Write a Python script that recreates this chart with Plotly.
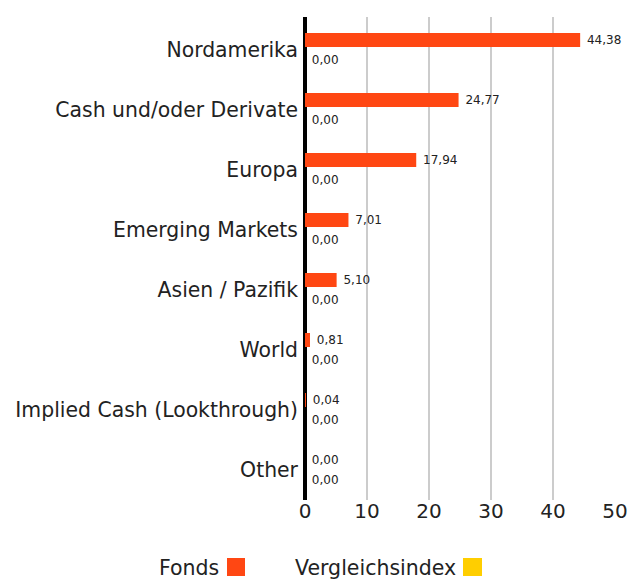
import plotly.graph_objects as go

categories = ["Nordamerika", "Cash und/oder Derivate", "Europa", "Emerging Markets",
              "Asien / Pazifik", "World", "Implied Cash (Lookthrough)", "Other"]
fonds = [44.38, 24.77, 17.94, 7.01, 5.10, 0.81, 0.04, 0.00]
vergleichsindex = [0.00, 0.00, 0.00, 0.00, 0.00, 0.00, 0.00, 0.00]
series_names = ["Fonds", "Vergleichsindex"]
series_colors = ["#FF4713", "#FFCE00"]
x_ticks = [0, 10, 20, 30, 40, 50]

OFF = 8  # default page body margin
W, H = 641 - OFF, 581 - OFF
L, R, T, B = 305 - OFF, 26, 17 - OFF, 81
PW, PH = W - L - R, H - T - B

def px_x(p):
    return (p - OFF - L) / PW

def px_y(p):
    return 1 - (p - OFF - T) / PH

FONT = "DejaVu Sans"
fig = go.Figure()
for name, vals, col in zip(series_names, [fonds, vergleichsindex], series_colors):
    fig.add_trace(go.Bar(
        y=categories, x=vals, name=name, orientation="h",
        marker=dict(color=col, line=dict(width=0)),
        texttemplate=" %{x:.2f}", textposition="outside",
        textfont=dict(size=12, color="#222222", family=FONT),
        cliponaxis=False, showlegend=False,
    ))

fig.update_layout(
    width=W, height=H,
    margin=dict(l=L, r=R, t=T, b=B, pad=0, autoexpand=False),
    paper_bgcolor="white", plot_bgcolor="white",
    barmode="group", bargap=1/3, bargroupgap=0.3,
    separators=",.",
    font=dict(family=FONT, color="#222222"),
    xaxis=dict(range=[0, 50], tickvals=x_ticks, showgrid=True, gridcolor="#cccccc",
               gridwidth=2, zeroline=True, zerolinecolor="black", zerolinewidth=4,
               showline=False, tickfont=dict(size=20, color="#222222"), ticks="",
               ticklabelstandoff=-3, automargin=False),
    yaxis=dict(range=[7.5, -0.55], showgrid=False, zeroline=False, showline=False,
               tickfont=dict(size=20.4, color="#222222"), ticks="", ticklabelstandoff=6,
               automargin=False),
)

# legend (symbol to the right of the label)
legend_items = [(219, 227, 245, "Fonds", series_colors[0]),
                (456, 463, 482, "Vergleichsindex", series_colors[1])]
for text_right, sq_l, sq_r, name, col in legend_items:
    fig.add_annotation(xref="paper", yref="paper", x=px_x(text_right + 2), y=px_y(568),
                       xanchor="right", yanchor="middle", text=name, showarrow=False,
                       font=dict(size=20.5, color="#222222", family=FONT))
    fig.add_shape(type="rect", xref="paper", yref="paper",
                  x0=px_x(sq_l), x1=px_x(sq_r), y0=px_y(576), y1=px_y(558),
                  fillcolor=col, line=dict(width=0))

fig.write_html("out.html")
